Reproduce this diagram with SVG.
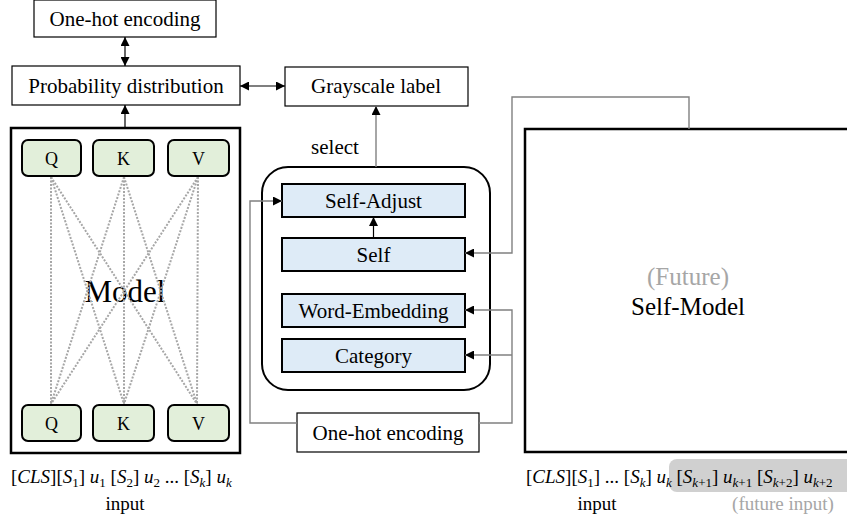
<svg xmlns="http://www.w3.org/2000/svg" width="847" height="517" viewBox="0 0 847 517">
<defs>
<marker id="ah" viewBox="0 0 10 10" refX="10" refY="5" markerWidth="9" markerHeight="9" markerUnits="userSpaceOnUse" orient="auto-start-reverse">
<path d="M0,0 L10,5 L0,10 z" fill="#000"/>
</marker>
<style>
.t{font-family:"Liberation Serif","Times New Roman",serif;font-size:21px;fill:#000;text-anchor:middle}
.box{fill:#fff;stroke:#000;stroke-width:1.2}
.qkv{fill:#e2efda;stroke:#000;stroke-width:2}
.blu{fill:#deebf7;stroke:#000;stroke-width:2}
.big{fill:#fff;stroke:#000;stroke-width:2.5}
.con{fill:none;stroke:#000;stroke-width:1.2}
.gcon{fill:none;stroke:#808080;stroke-width:1.4}
.dot{stroke:#a6a6a6;stroke-width:2;stroke-dasharray:2 1.5;fill:none}
.m{font-family:"Liberation Serif","Times New Roman",serif;font-size:19px;fill:#000}
.i{font-style:italic}
.s{font-size:13px}
</style>
</defs>

<g id="onehot-top"><rect class="box" x="34" y="0" width="182" height="37"/><text class="t" x="125" y="26">One-hot encoding</text></g>
<g id="prob"><rect class="box" x="12" y="66" width="228" height="39"/><text class="t" x="126" y="93">Probability distribution</text></g>
<g id="gray"><rect class="box" x="285" y="67" width="183" height="39"/><text class="t" x="376" y="93">Grayscale label</text></g>

<g id="model">
<rect class="big" x="11" y="128" width="229" height="325"/>
<text x="125" y="302" style="font-family:'Liberation Serif',serif;font-size:31px;text-anchor:middle">Model</text>
<g id="dots">
<line class="dot" x1="51" y1="177" x2="51" y2="404"/>
<line class="dot" x1="51" y1="177" x2="124" y2="404"/>
<line class="dot" x1="51" y1="177" x2="197" y2="404"/>
<line class="dot" x1="124" y1="177" x2="51" y2="404"/>
<line class="dot" x1="124" y1="177" x2="124" y2="404"/>
<line class="dot" x1="124" y1="177" x2="197" y2="404"/>
<line class="dot" x1="198" y1="177" x2="51" y2="404"/>
<line class="dot" x1="198" y1="177" x2="124" y2="404"/>
<line class="dot" x1="198" y1="177" x2="197" y2="404"/>
</g>
<g id="q1"><rect class="qkv" x="22" y="140" width="59" height="36" rx="6"/><text class="t" x="51.5" y="165" style="font-size:18px">Q</text></g>
<g id="k1"><rect class="qkv" x="93" y="140" width="61" height="36" rx="6"/><text class="t" x="123.5" y="165" style="font-size:18px">K</text></g>
<g id="v1"><rect class="qkv" x="168" y="140" width="61" height="36" rx="6"/><text class="t" x="198.5" y="165" style="font-size:18px">V</text></g>
<g id="q2"><rect class="qkv" x="22" y="405" width="59" height="36" rx="6"/><text class="t" x="51.5" y="430" style="font-size:18px">Q</text></g>
<g id="k2"><rect class="qkv" x="93" y="405" width="61" height="36" rx="6"/><text class="t" x="123.5" y="430" style="font-size:18px">K</text></g>
<g id="v2"><rect class="qkv" x="168" y="405" width="61" height="36" rx="6"/><text class="t" x="198.5" y="430" style="font-size:18px">V</text></g>
</g>

<g id="container"><rect x="262" y="167" width="228" height="223" rx="26" fill="#fff" stroke="#000" stroke-width="2"/></g>
<g id="selfadjust"><rect class="blu" x="282" y="184" width="183" height="33"/><text class="t" x="373.5" y="208">Self-Adjust</text></g>
<g id="self"><rect class="blu" x="282" y="238" width="183" height="33"/><text class="t" x="373.5" y="262">Self</text></g>
<g id="wordemb"><rect class="blu" x="282" y="294" width="183" height="33"/><text class="t" x="373.5" y="318">Word-Embedding</text></g>
<g id="category"><rect class="blu" x="282" y="339" width="183" height="33"/><text class="t" x="373.5" y="363">Category</text></g>
<g id="onehot-bot"><rect class="box" x="297" y="413" width="182" height="39"/><text class="t" x="388" y="440">One-hot encoding</text></g>

<g id="selfmodel">
<rect class="big" x="525" y="129" width="340" height="323"/>
<text x="688" y="285" style="font-family:'Liberation Serif',serif;font-size:25px;text-anchor:middle;fill:#a6a6a6">(Future)</text>
<text x="688" y="315" style="font-family:'Liberation Serif',serif;font-size:25px;text-anchor:middle">Self-Model</text>
</g>

<g id="connectors">
<line class="con" x1="125" y1="37" x2="125" y2="66" marker-start="url(#ah)" marker-end="url(#ah)"/>
<line class="con" x1="125" y1="128" x2="125" y2="105" marker-end="url(#ah)"/>
<line class="con" x1="240" y1="86" x2="285" y2="86" marker-start="url(#ah)" marker-end="url(#ah)"/>
<line class="gcon" x1="376" y1="167" x2="376" y2="106" marker-end="url(#ah)"/>
<line class="con" x1="373.5" y1="238" x2="373.5" y2="217" marker-end="url(#ah)"/>
<polyline class="gcon" points="689,129 689,97 512,97 512,253 465,253" marker-end="url(#ah)"/>
<polyline class="gcon" points="297,423 250,423 250,201 282,201" marker-end="url(#ah)"/>
<polyline class="gcon" points="479,423 512,423 512,310 465,310" marker-end="url(#ah)"/>
<polyline class="gcon" points="512,355 465,355" marker-end="url(#ah)"/>
</g>

<text class="t" x="335" y="154">select</text>

<g id="input-left">
<text class="m" x="11" y="483">[<tspan class="i">CLS</tspan>][<tspan class="i">S</tspan><tspan class="s" dy="4">1</tspan><tspan dy="-4">] </tspan><tspan class="i">u</tspan><tspan class="s" dy="4">1</tspan><tspan dy="-4"> [</tspan><tspan class="i">S</tspan><tspan class="s" dy="4">2</tspan><tspan dy="-4">] </tspan><tspan class="i">u</tspan><tspan class="s" dy="4">2</tspan><tspan dy="-4"> ... [</tspan><tspan class="i">S</tspan><tspan class="s i" dy="4">k</tspan><tspan dy="-4">] </tspan><tspan class="i">u</tspan><tspan class="s i" dy="4">k</tspan></text>
<text class="t" x="125" y="510" style="font-size:19px">input</text>
</g>

<g id="input-right">
<rect x="669" y="459" width="200" height="33" rx="8" fill="#d0d0d0"/>
<text class="m" x="526" y="483">[<tspan class="i">CLS</tspan>][<tspan class="i">S</tspan><tspan class="s" dy="4">1</tspan><tspan dy="-4">] ... [</tspan><tspan class="i">S</tspan><tspan class="s i" dy="4">k</tspan><tspan dy="-4">] </tspan><tspan class="i">u</tspan><tspan class="s i" dy="4">k</tspan><tspan dy="-4"> [</tspan><tspan class="i">S</tspan><tspan class="s i" dy="4">k</tspan><tspan class="s">+1</tspan><tspan dy="-4">] </tspan><tspan class="i">u</tspan><tspan class="s i" dy="4">k</tspan><tspan class="s">+1</tspan><tspan dy="-4"> [</tspan><tspan class="i">S</tspan><tspan class="s i" dy="4">k</tspan><tspan class="s">+2</tspan><tspan dy="-4">] </tspan><tspan class="i">u</tspan><tspan class="s i" dy="4">k</tspan><tspan class="s">+2</tspan></text>
<text class="t" x="597" y="510" style="font-size:19px">input</text>
<text class="t" x="783" y="510" style="font-size:19px;fill:#a6a6a6">(future input)</text>
</g>
</svg>
